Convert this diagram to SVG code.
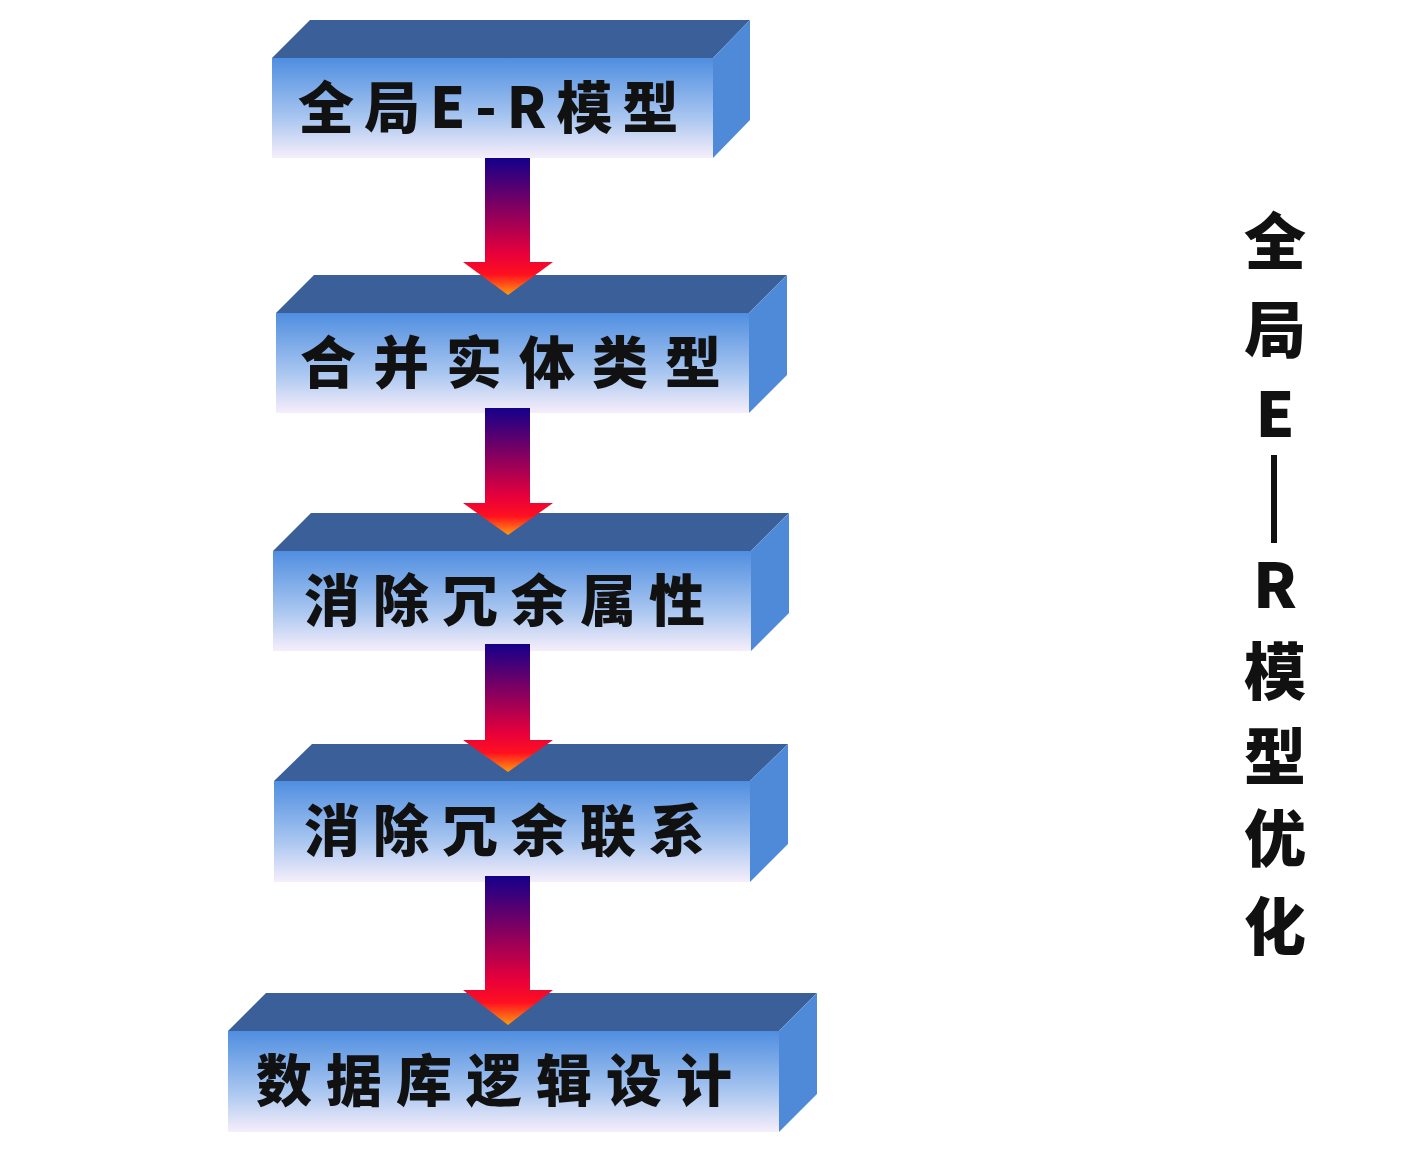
<svg xmlns="http://www.w3.org/2000/svg" width="1412" height="1164" viewBox="0 0 1412 1164">
<defs>
<linearGradient id="front" x1="0" y1="0" x2="0" y2="1"><stop offset="0" stop-color="#4f8ee0"/><stop offset="0.6" stop-color="#a9c6f0"/><stop offset="1" stop-color="#f6eefa"/></linearGradient>
<linearGradient id="arr" x1="0" y1="0" x2="0" y2="1"><stop offset="0" stop-color="#14008a"/><stop offset="0.7" stop-color="#e8003a"/><stop offset="0.85" stop-color="#ff1020"/><stop offset="1" stop-color="#ff9a10"/></linearGradient>
<style>
.top{fill:#3a5f99}.side{fill:#4f8ad9}.front{fill:url(#front)}
.t{font-family:"Noto Sans CJK SC",sans-serif;font-weight:900;font-size:56px;fill:#111}
.v{font-family:"Noto Sans CJK SC",sans-serif;font-weight:900;font-size:62px;fill:#111;text-anchor:middle}
</style>
</defs>
<g id="n1"><polygon class="top" points="272,58 310,20 750,20 713,58"/><polygon class="side" points="713,58 750,20 750,120 713,158"/><rect class="front" x="272" y="58" width="441" height="100"/><text class="t" x="298" y="128" letter-spacing="10">全局E-R模型</text></g>
<g id="n2"><polygon class="top" points="276,313 314,275 787,275 749,313"/><polygon class="side" points="749,313 787,275 787,375 749,413"/><rect class="front" x="276" y="313" width="473" height="100"/><text class="t" x="300" y="383" letter-spacing="17">合并实体类型</text></g>
<g id="n3"><polygon class="top" points="273,551 311,513 789,513 751,551"/><polygon class="side" points="751,551 789,513 789,613 751,651"/><rect class="front" x="273" y="551" width="478" height="100"/><text class="t" x="304" y="621" letter-spacing="13">消除冗余属性</text></g>
<g id="n4"><polygon class="top" points="274,781 312,744 788,744 750,781"/><polygon class="side" points="750,781 788,744 788,844 750,882"/><rect class="front" x="274" y="781" width="476" height="101"/><text class="t" x="304" y="851" letter-spacing="13">消除冗余联系</text></g>
<g id="n5"><polygon class="top" points="228,1031 266,993 817,993 779,1031"/><polygon class="side" points="779,1031 817,993 817,1094 779,1132"/><rect class="front" x="228" y="1031" width="551" height="101"/><text class="t" x="256" y="1101" letter-spacing="14">数据库逻辑设计</text></g>
<g id="connectors" fill="url(#arr)">
<path d="M485 158H530V262H553L508 295L463 262H485Z"/>
<path d="M485 408H530V503H553L508 535L463 503H485Z"/>
<path d="M485 644H530V740H553L508 772L463 740H485Z"/>
<path d="M485 876H530V990H553L508 1025L463 990H485Z"/>
</g>
<g id="title">
<text class="v" x="1275" y="265">全</text>
<text class="v" x="1275" y="353">局</text>
<text class="v" x="1275" y="437" font-weight="400">E</text>
<rect x="1271" y="455" width="6" height="88" fill="#111"/>
<text class="v" x="1275" y="608" font-weight="400">R</text>
<text class="v" x="1275" y="695">模</text>
<text class="v" x="1275" y="780">型</text>
<text class="v" x="1275" y="862">优</text>
<text class="v" x="1275" y="950">化</text>
</g>
</svg>
